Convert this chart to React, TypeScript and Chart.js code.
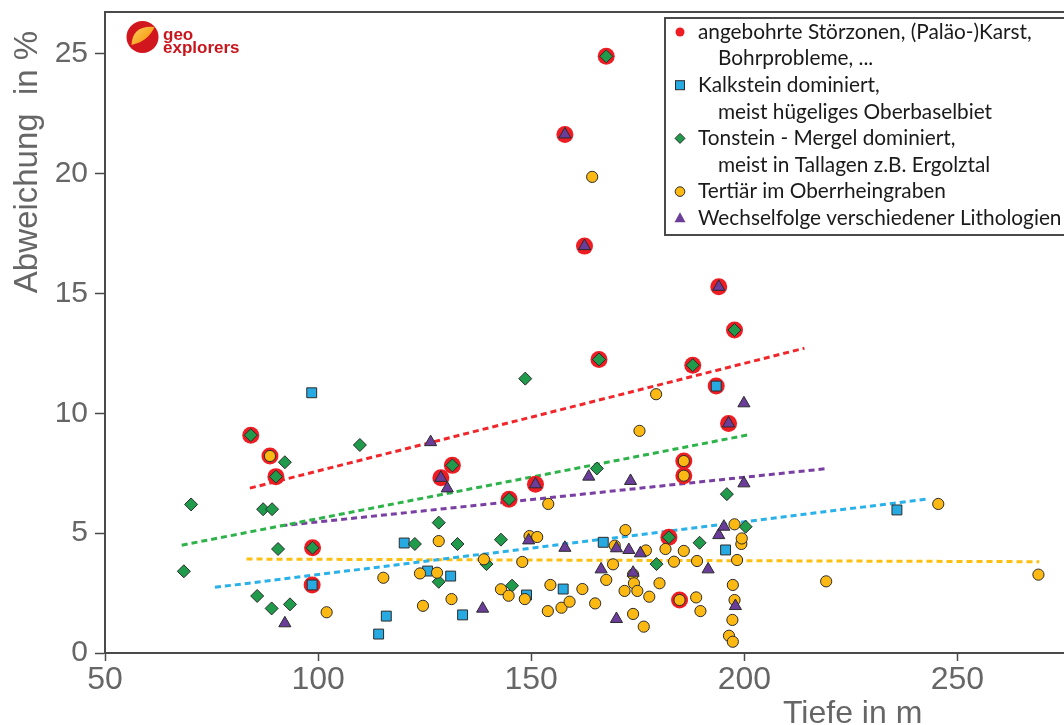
import React, { useEffect, useRef } from 'react';
import { Chart, registerables } from 'chart.js';

Chart.register(...registerables);

// ---------- axes ----------
const xTickValues = [50, 100, 150, 200, 250];
const yTickValues = [0, 5, 10, 15, 20, 25];
const X_MIN = 50;
const X_MAX = 275;
const Y_MIN = 0;
const Y_MAX = 26.75;
const xTitle = 'Tiefe in m';
const yTitle = 'Abweichung  in %';

// ---------- series labels ----------
const legendLines = [
  'angebohrte Störzonen, (Paläo-)Karst,',
  'Bohrprobleme, ...',
  'Kalkstein dominiert,',
  'meist hügeliges Oberbaselbiet',
  'Tonstein - Mergel dominiert,',
  'meist in Tallagen z.B. Ergolztal',
  'Tertiär im Oberrheingraben',
  'Wechselfolge verschiedener Lithologien',
];

// ---------- data ----------
// angebohrte Störzonen (red halo)
const stoerX = [84.2, 88.7, 90.1, 98.7, 98.6, 128.8, 131.5, 144.8, 151.0, 157.9, 162.5, 165.9, 167.6, 182.3, 184.8, 185.8, 185.8, 187.9, 193.4, 194.0, 196.3, 197.7];
const stoerY = [9.09, 8.22, 7.36, 4.39, 2.84, 7.31, 7.83, 6.42, 7.04, 21.64, 16.98, 12.25, 24.9, 4.83, 2.21, 8.01, 7.4, 12.01, 11.14, 15.28, 9.58, 13.48];

// Kalkstein dominiert (blue squares)
const kalkX = [98.5, 98.6, 114.2, 116.0, 120.2, 125.7, 131.1, 133.9, 148.9, 157.5, 166.9, 193.4, 195.6, 235.8];
const kalkY = [10.86, 2.84, 0.79, 1.54, 4.59, 3.42, 3.21, 1.59, 2.42, 2.67, 4.62, 11.14, 4.3, 5.97];

// Tonstein - Mergel dominiert (green diamonds)
const tonX = [68.5, 70.2, 84.2, 85.7, 87.1, 89.1, 89.2, 90.1, 90.6, 92.2, 93.4, 98.7, 109.8, 122.7, 128.3, 128.3, 131.5, 132.7, 139.5, 142.9, 144.8, 145.5, 148.6, 165.4, 165.9, 167.6, 179.4, 182.3, 187.9, 189.5, 195.9, 197.7, 200.3];
const tonY = [3.41, 6.2, 9.09, 2.38, 6.0, 1.86, 6.0, 7.36, 4.34, 7.96, 2.03, 4.39, 8.68, 4.55, 5.44, 2.97, 7.83, 4.55, 3.71, 4.73, 6.42, 2.81, 11.45, 7.7, 12.25, 24.9, 3.71, 4.83, 12.01, 4.6, 6.63, 13.48, 5.27];

// Tertiär im Oberrheingraben (orange circles)
const tertX = [88.7, 102.0, 115.3, 123.9, 124.6, 127.9, 128.3, 131.3, 138.9, 142.9, 144.7, 147.9, 148.5, 149.6, 151.4, 153.9, 154.0, 154.5, 157.1, 159.0, 162.0, 164.3, 165.0, 167.6, 169.2, 169.6, 171.9, 172.1, 173.9, 173.9, 174.1, 174.9, 175.4, 176.4, 176.9, 177.7, 179.3, 180.1, 181.5, 183.5, 184.8, 185.8, 185.8, 185.8, 188.7, 188.9, 189.7, 196.4, 197.2, 197.3, 197.3, 197.7, 197.7, 198.3, 199.3, 199.4, 219.2, 245.5, 269.0];
const tertY = [8.22, 1.7, 3.14, 3.32, 1.97, 3.35, 4.67, 2.25, 3.91, 2.66, 2.39, 3.8, 2.25, 4.88, 4.84, 1.75, 6.22, 2.84, 1.89, 2.14, 2.67, 19.87, 2.07, 3.05, 3.7, 4.48, 2.59, 5.13, 3.28, 1.63, 2.91, 2.59, 9.27, 1.1, 4.28, 2.35, 10.8, 2.91, 4.34, 3.81, 2.21, 8.01, 7.4, 4.26, 2.32, 3.84, 1.75, 0.72, 1.38, 0.47, 2.84, 2.21, 5.37, 3.88, 4.55, 4.78, 2.99, 6.22, 3.27];

// Wechselfolge verschiedener Lithologien (purple triangles)
const wechselX = [92.2, 126.4, 128.8, 130.3, 138.6, 149.4, 151.0, 157.9, 157.9, 162.5, 163.5, 166.4, 170.0, 170.0, 172.9, 173.3, 173.9, 175.6, 191.5, 194.0, 194.0, 195.2, 196.3, 197.9, 199.9, 199.9];
const wechselY = [1.24, 8.8, 7.31, 6.87, 1.85, 4.7, 7.04, 4.39, 21.64, 16.98, 7.36, 3.49, 4.37, 1.42, 4.3, 7.18, 3.35, 4.16, 3.49, 4.92, 15.28, 5.27, 9.58, 1.96, 7.08, 10.42];

// trend lines (start, end)
const trendStoerX = [84.0, 214.1];
const trendStoerY = [6.88, 12.72];
const trendTonX = [68.0, 200.8];
const trendTonY = [4.5, 9.1];
const trendWechselX = [91.4, 219.6];
const trendWechselY = [5.31, 7.7];
const trendKalkX = [75.8, 242.7];
const trendKalkY = [2.74, 6.42];
const trendTertX = [83.2, 269.2];
const trendTertY = [3.92, 3.81];

// ---------- styles ----------
const RED = '#EE1D23';
const BLUE = '#27AAE1';
const GREEN = '#1F9B4B';
const ORANGE = '#FDB913';
const PURPLE = '#6A3D9A';
const EDGE = '#2b2b2b';
const AXIS = '#4a4a4a';
const TEXT = '#666666';

const pts = (xs: number[], ys: number[]) => xs.map((x, i) => ({ x, y: ys[i] }));

const trend = (xs: number[], ys: number[], color: string) => ({
  type: 'line' as const,
  data: pts(xs, ys),
  borderColor: color,
  borderWidth: 3,
  borderDash: [6, 4],
  pointRadius: 0,
  fill: false,
  order: 10,
});

const decorPlugin = {
  id: 'decor',
  beforeDatasetsDraw(chart: any) {
    const { ctx, chartArea } = chart;
    ctx.save();
    ctx.strokeStyle = AXIS;
    ctx.lineWidth = 2;
    ctx.beginPath();
    ctx.moveTo(chartArea.left, chartArea.top);
    ctx.lineTo(chartArea.right + 2, chartArea.top);
    ctx.stroke();
    ctx.restore();
  },
  afterDraw(chart: any) {
    const { ctx } = chart;
    ctx.save();
    // axis titles
    ctx.fillStyle = TEXT;
    ctx.font = "32px 'Liberation Sans', Arial, sans-serif";
    ctx.textAlign = 'left';
    ctx.textBaseline = 'alphabetic';
    ctx.fillText(xTitle, 783, 723);
    ctx.save();
    ctx.translate(37, 162);
    ctx.rotate(-Math.PI / 2);
    ctx.textAlign = 'center';
    ctx.font = "33px 'Liberation Sans', Arial, sans-serif";
    ctx.fillText(yTitle, 0, 0);
    ctx.restore();

    // logo
    const cx = 142.5, cy = 37, r = 16;
    ctx.fillStyle = '#D2161E';
    ctx.beginPath();
    ctx.arc(cx, cy, r, 0, Math.PI * 2);
    ctx.fill();
    const g = ctx.createLinearGradient(cx - r, cy - r, cx + r, cy + r);
    g.addColorStop(0, '#FFE07A');
    g.addColorStop(0.6, '#F7A21B');
    g.addColorStop(1, '#E9551F');
    ctx.fillStyle = g;
    ctx.beginPath();
    ctx.moveTo(cx - 11, cy + 8);
    ctx.quadraticCurveTo(cx - 10, cy - 12, cx + 12, cy - 10);
    ctx.quadraticCurveTo(cx + 6, cy + 4, cx - 11, cy + 8);
    ctx.fill();
    ctx.fillStyle = '#C8161D';
    ctx.font = "bold 17px 'Liberation Sans', Arial, sans-serif";
    ctx.textAlign = 'left';
    ctx.fillText('geo', 163, 40);
    ctx.fillText('explorers', 163, 53);

    // legend
    const lx = 665, ly = 18, lw = 402, lh = 217;
    ctx.fillStyle = '#ffffff';
    ctx.fillRect(lx, ly, lw, lh);
    ctx.strokeStyle = AXIS;
    ctx.lineWidth = 2;
    ctx.strokeRect(lx, ly, lw, lh);
    ctx.font = "20.8px Lato, 'Noto Sans', sans-serif";
    ctx.textBaseline = 'middle';
    const rowY = (i: number) => 32 + i * 26.6;
    legendLines.forEach((t, i) => {
      const indent = i === 1 || i === 3 || i === 5;
      ctx.fillStyle = '#1a1a1a';
      ctx.fillText(t, indent ? 718 : 698, rowY(i));
    });
    const mx = 680;
    ctx.lineWidth = 1;
    ctx.strokeStyle = EDGE;
    ctx.fillStyle = RED;
    ctx.beginPath();
    ctx.arc(mx, rowY(0), 4.5, 0, Math.PI * 2);
    ctx.fill();
    ctx.fillStyle = BLUE;
    ctx.fillRect(mx - 4.5, rowY(2) - 4.5, 9, 9);
    ctx.strokeRect(mx - 4.5, rowY(2) - 4.5, 9, 9);
    ctx.fillStyle = GREEN;
    ctx.beginPath();
    ctx.moveTo(mx, rowY(4) - 5);
    ctx.lineTo(mx + 5, rowY(4));
    ctx.lineTo(mx, rowY(4) + 5);
    ctx.lineTo(mx - 5, rowY(4));
    ctx.closePath();
    ctx.fill();
    ctx.stroke();
    ctx.fillStyle = ORANGE;
    ctx.beginPath();
    ctx.arc(mx, rowY(6), 4.8, 0, Math.PI * 2);
    ctx.fill();
    ctx.stroke();
    ctx.fillStyle = PURPLE;
    ctx.beginPath();
    ctx.moveTo(mx, rowY(7) - 6);
    ctx.lineTo(mx + 5.5, rowY(7) + 4);
    ctx.lineTo(mx - 5.5, rowY(7) + 4);
    ctx.closePath();
    ctx.fill();
    ctx.restore();
  },
};

export default function App() {
  const ref = useRef<HTMLCanvasElement | null>(null);

  useEffect(() => {
    if (!ref.current) return;
    Chart.defaults.font.family = "'Liberation Sans', Arial, sans-serif";
    const chart = new Chart(ref.current, {
      type: 'scatter',
      data: {
        datasets: [
          {
            label: legendLines[6],
            data: pts(tertX, tertY),
            backgroundColor: ORANGE,
            borderColor: EDGE,
            borderWidth: 1,
            pointStyle: 'circle',
            pointRadius: 5.6,
            order: 2,
          },
          {
            label: legendLines[7],
            data: pts(wechselX, wechselY),
            backgroundColor: PURPLE,
            borderColor: EDGE,
            borderWidth: 1,
            pointStyle: 'triangle',
            pointRadius: 7,
            order: 1,
          },
          {
            label: legendLines[4],
            data: pts(tonX, tonY),
            backgroundColor: GREEN,
            borderColor: EDGE,
            borderWidth: 1,
            pointStyle: 'rectRot',
            pointRadius: 6.5,
            order: 3,
          },
          {
            label: legendLines[2],
            data: pts(kalkX, kalkY),
            backgroundColor: BLUE,
            borderColor: EDGE,
            borderWidth: 1,
            pointStyle: 'rect',
            pointRadius: 7,
            order: 4,
          },
          {
            label: legendLines[0],
            data: pts(stoerX, stoerY),
            backgroundColor: RED,
            borderWidth: 0,
            pointStyle: 'circle',
            pointRadius: 8.5,
            order: 5,
          },
          trend(trendStoerX, trendStoerY, '#F0262B') as any,
          trend(trendTonX, trendTonY, '#2DB34A') as any,
          trend(trendWechselX, trendWechselY, '#7A3FA2') as any,
          trend(trendKalkX, trendKalkY, '#29B1E8') as any,
          trend(trendTertX, trendTertY, '#FDC010') as any,
        ],
      },
      options: {
        animation: false,
        responsive: false,
        maintainAspectRatio: false,
        layout: { autoPadding: false, padding: { top: 12, left: 0, right: 0, bottom: 0 } },
        plugins: {
          legend: { display: false },
          tooltip: { enabled: false },
        },
        scales: {
          x: {
            type: 'linear',
            min: X_MIN,
            max: X_MAX,
            afterFit: (s: any) => { s.height = 72; s.paddingLeft = 0; s.paddingRight = 0; },
            afterBuildTicks: (s: any) => { s.ticks = xTickValues.map((v) => ({ value: v })); },
            border: { display: true, color: AXIS, width: 2 },
            grid: { display: true, drawOnChartArea: false, drawTicks: true, tickLength: 8, tickColor: AXIS, tickWidth: 1.5 },
            ticks: { color: TEXT, font: { size: 32 }, padding: 0, maxRotation: 0, autoSkip: false },
          },
          y: {
            type: 'linear',
            min: Y_MIN,
            max: Y_MAX,
            afterFit: (s: any) => { s.width = 105; s.paddingTop = 0; s.paddingBottom = 0; },
            afterBuildTicks: (s: any) => { s.ticks = yTickValues.map((v) => ({ value: v })); },
            border: { display: true, color: AXIS, width: 2 },
            grid: { display: true, drawOnChartArea: false, drawTicks: true, tickLength: 10, tickColor: AXIS, tickWidth: 1.5 },
            ticks: { color: TEXT, font: { size: 30 }, padding: 7, autoSkip: false },
          },
        },
      },
      plugins: [decorPlugin],
    });
    return () => chart.destroy();
  }, []);

  return (
    <div style={{ position: 'fixed', left: 0, top: 0, width: 1064, height: 725, background: '#fff' }}>
      <canvas ref={ref} width={1064} height={725} style={{ display: 'block', width: 1064, height: 725 }} />
    </div>
  );
}
